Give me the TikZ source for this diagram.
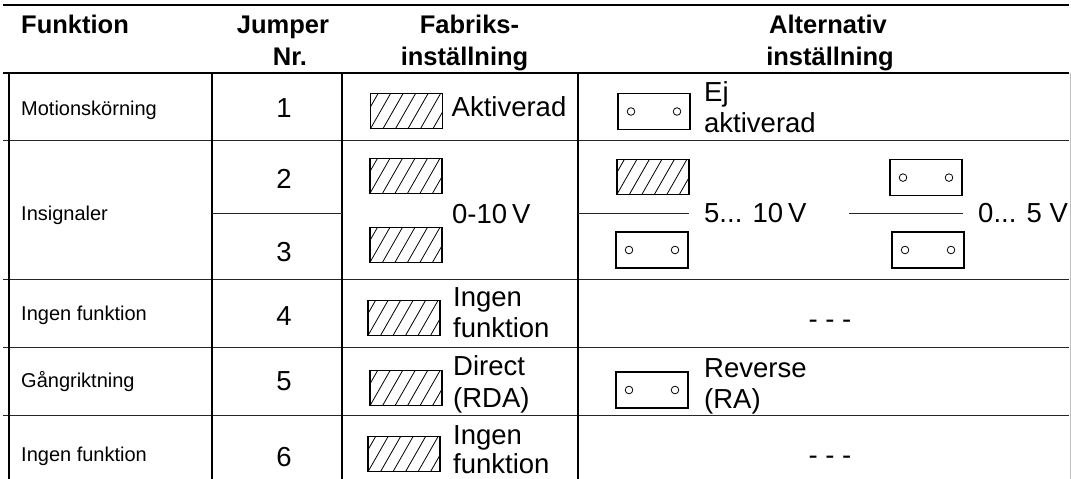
\documentclass[tikz,border=0pt]{standalone}
\usepackage{fontspec}
\setmainfont{Liberation Sans}
\begin{document}
\begin{tikzpicture}[x=1pt,y=-1pt,
  vline/.style={line width=2pt,black},
  hline/.style={line width=1pt,black!85},
  hdr/.style={font=\fontsize{25.5}{31}\selectfont\bfseries,inner sep=0pt,anchor=base},
  fn/.style={font=\fontsize{20}{24}\selectfont,inner sep=0pt,anchor=base west},
  num/.style={font=\fontsize{27.5}{31}\selectfont,inner sep=0pt,anchor=base},
  lbl/.style={font=\fontsize{27.5}{31}\selectfont,inner sep=0pt,anchor=base west},
  jon/.style={draw,line width=1.3pt,minimum width=72pt,minimum height=35pt,inner sep=0pt,
    path picture={\foreach \k in {-2,...,5}{\draw[line width=0.8pt]
      ([xshift=\k*12.5pt]path picture bounding box.south west) -- ++(20pt,35pt);}}},
  joff/.style={draw,line width=1.3pt,minimum width=72pt,minimum height=36pt,inner sep=0pt,
    path picture={\draw[line width=0.8pt]
      ([xshift=-23pt]path picture bounding box.center) circle[radius=3.8pt]
      ([xshift=23pt]path picture bounding box.center) circle[radius=3.8pt];}}
]
\useasboundingbox (0,0) rectangle (1071,479);

% table rules
\draw[line width=2pt] (3,5) -- (1069,5);
\draw[line width=1.6pt] (3,72.7) -- (1069,72.7);
\foreach \yy in {140.7,279,347,415} \draw[hline] (3,\yy) -- (1069,\yy);
\foreach \xx in {9,211.5,341.5,578} \draw[vline] (\xx,72.7) -- (\xx,479);
\draw[line width=0.8pt,black!25] (1070,73) -- (1070,479);
\draw[hline] (211.5,213) -- (341.5,213);

% header
\node[hdr,anchor=base west] (hF) at (21,33.5) {Funktion};
\node[hdr] (hJ1) at (283,33.5) {Jumper};
\node[hdr] (hJ2) at (290,65) {Nr.};
\node[hdr] (hB1) at (469.5,33.5) {Fabriks-};
\node[hdr] (hB2) at (464.5,65) {inställning};
\node[hdr] (hA1) at (828,33.5) {Alternativ};
\node[hdr] (hA2) at (830,65) {inställning};

% column 1
\node[fn] (f1) at (21,115) {Motionskörning};
\node[fn] (f2) at (21,220) {Insignaler};
\node[fn] (f4) at (21,320) {Ingen funktion};
\node[fn] (f5) at (21,387) {Gångriktning};
\node[fn] (f6) at (21,461) {Ingen funktion};

% column 2
\node[num] (n1) at (284,117) {1};
\node[num] (n2) at (284,188.5) {2};
\node[num] (n3) at (284,261.5) {3};
\node[num] (n4) at (284,325) {4};
\node[num] (n5) at (284,390) {5};
\node[num] (n6) at (284,466) {6};

% column 3 (factory setting)
\node[jon] (b1) at (406.7,110.8) {};
\node[lbl] (b1t) at (451.5,116) {Aktiverad};
\node[jon] (b2) at (406,175.8) {};
\node[jon] (b3) at (406,244.8) {};
\node[lbl] (b23t) at (452,223) {0-10\hspace{5pt}V};
\node[jon] (b4) at (404,318) {};
\node[lbl] (b4t) at (453,306) {Ingen};
\node[lbl] (b4u) at (453,337) {funktion};
\node[jon] (b5) at (406,388.2) {};
\node[lbl] (b5t) at (453,375) {Direct};
\node[lbl] (b5u) at (453,407) {(RDA)};
\node[jon] (b6) at (404,454.2) {};
\node[lbl] (b6t) at (453,444) {Ingen};
\node[lbl] (b6u) at (453,473) {funktion};

% column 4 (alternative setting)
\node[joff] (a1) at (654,111.5) {};
\node[lbl] (a1t) at (704,101) {Ej};
\node[lbl] (a1u) at (704,132) {aktiverad};
\node[jon] (a2) at (653,176.7) {};
\node[joff] (a3) at (652,250) {};
\node[joff] (c2) at (926,177.6) {};
\node[joff] (c3) at (928,250) {};
\coordinate (l1a) at (578,213);
\coordinate (l1b) at (688.6,213);
\coordinate (l2a) at (849,213);
\coordinate (l2b) at (963,213);
\draw[hline] (l1a) -- (l1b);
\draw[hline] (l2a) -- (l2b);
\node[lbl] (a23t) at (704,222) {5... 10\hspace{5pt}V};
\node[lbl] (c23t) at (978,222) {0... 5 V};
\node[num] (a4) at (830,328.5) {- - -};
\node[joff] (a5) at (652,390) {};
\node[lbl] (a5t) at (704,377) {Reverse};
\node[lbl] (a5u) at (704,408) {(RA)};
\node[num] (a6) at (830,464) {- - -};
\end{tikzpicture}
\end{document}
